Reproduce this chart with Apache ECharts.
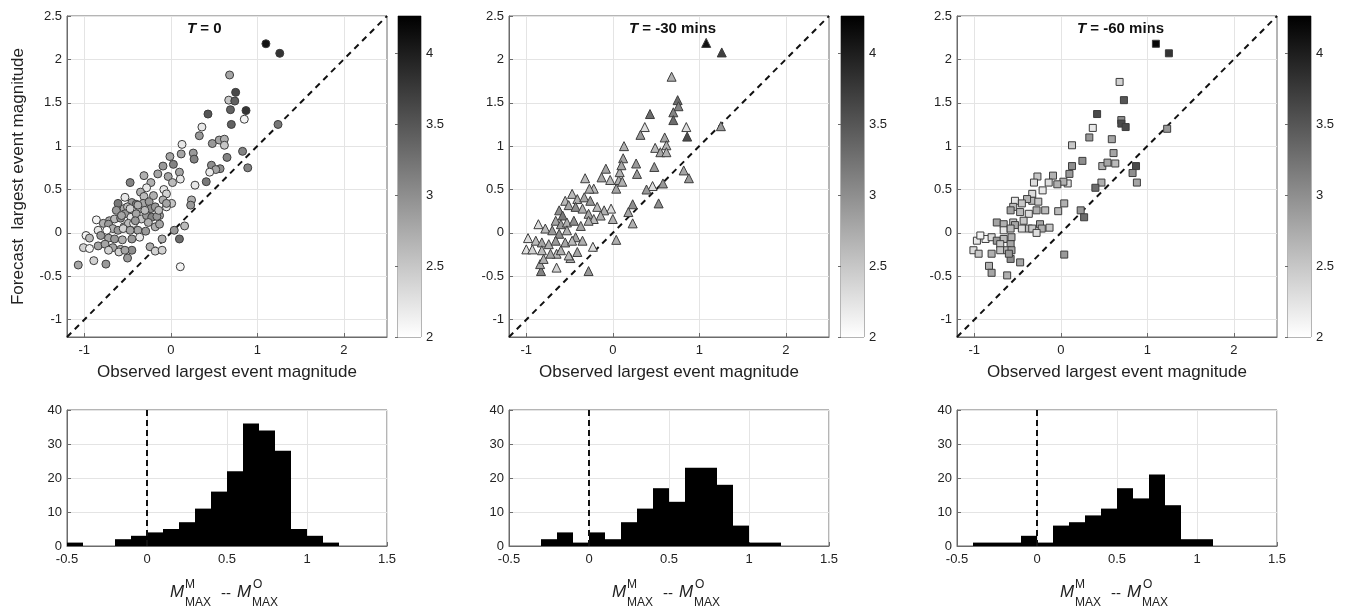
<!DOCTYPE html>
<html>
<head>
<meta charset="utf-8">
<script src="https://cdn.jsdelivr.net/npm/echarts@6/dist/echarts.min.js"></script>
<style>
  html, body { margin: 0; padding: 0; background: #fff; }
  #chart { width: 1349px; height: 608px; }
</style>
</head>
<body>
<div id="chart"></div>
<script>
// Observed vs forecast largest event magnitude: [observed, forecast, colour value]
const obsFcstT0 = [
  [1.10,2.18,4.1],[1.26,2.07,3.8],[0.68,1.82,2.8],[0.75,1.62,3.6],[0.67,1.53,2.5],[0.74,1.52,3.4],
  [0.69,1.42,3.4],[0.87,1.41,3.8],[0.85,1.31,2.1],[0.43,1.37,3.5],[0.70,1.25,3.4],[1.24,1.25,3.2],
  [0.36,1.22,2.2],[0.33,1.12,2.9],[0.48,1.03,2.9],[0.56,1.07,2.8],[0.62,1.08,2.7],[0.62,1.01,2.5],
  [0.13,1.02,2.2],[0.12,0.91,2.8],[0.26,0.92,2.9],[0.27,0.85,3.1],[0.83,0.94,3.1],[0.65,0.87,3.1],
  [-0.01,0.88,2.8],[0.03,0.79,3.1],[-0.09,0.77,2.9],[0.47,0.78,3.0],[0.89,0.75,3.1],[0.57,0.74,3.0],
  [0.52,0.73,2.8],[0.45,0.70,2.2],[0.10,0.70,2.8],[-0.15,0.68,2.8],[-0.03,0.65,2.8],[-0.31,0.66,2.7],
  [0.11,0.62,2.2],[0.02,0.58,2.6],[-0.47,0.58,3.1],[0.41,0.59,3.2],[0.28,0.55,2.2],[-0.23,0.58,2.7],
  [-0.28,0.52,2.2],[-0.08,0.50,2.2],[-0.35,0.47,2.7],[0.24,0.38,2.7],[-0.53,0.41,2.2],[-0.31,0.42,2.6],
  [0.23,0.32,2.9],[0.01,0.34,2.5],[-0.05,0.30,2.2],[-0.61,0.34,3.2],[-0.45,0.35,2.9],
  [-0.54,0.28,2.8],[-0.63,0.26,2.9],[-0.50,0.30,2.6],[-0.40,0.33,3.1],[-0.36,0.28,2.7],[-0.32,0.34,2.8],
  [-0.25,0.36,2.9],[-0.23,0.28,3.0],[-0.18,0.30,2.9],[-0.13,0.20,2.8],
  [-0.71,0.14,2.8],[-0.65,0.16,2.6],[-0.58,0.17,3.0],[-0.53,0.22,2.9],[-0.46,0.18,2.2],[-0.40,0.22,2.8],
  [-0.34,0.16,2.5],[-0.28,0.20,2.9],[-0.22,0.18,3.1],[-0.16,0.19,2.9],
  [-0.86,0.15,2.1],[-0.78,0.11,2.7],[-0.72,0.10,2.9],[-0.67,0.05,2.7],[-0.61,0.03,2.9],[-0.54,0.07,2.7],
  [-0.49,0.11,2.6],[-0.43,0.11,2.2],[-0.38,0.03,2.8],[-0.29,0.02,2.9],[-0.18,0.07,2.7],[-0.13,0.10,2.8],
  [-0.84,0.03,2.2],[-0.74,0.03,2.0],[-0.81,-0.03,2.9],[-0.72,-0.06,2.8],[-0.65,-0.07,2.9],[-0.56,-0.08,2.7],
  [-0.45,-0.07,2.9],[-0.36,-0.05,2.2],
  [-0.98,-0.03,2.1],[-1.01,-0.17,2.4],[-0.94,-0.18,2.1],[-0.84,-0.15,2.8],[-0.76,-0.13,2.8],[-0.67,-0.17,2.8],
  [-0.58,-0.19,2.7],[-0.45,-0.20,3.0],[-0.24,-0.16,2.7],[-0.18,-0.21,2.4],[-0.10,-0.07,2.7],
  [-1.07,-0.37,2.8],[-0.89,-0.32,2.4],[-0.75,-0.36,2.9],[-0.60,-0.22,2.4],[-0.50,-0.29,2.9],[0.11,-0.39,2.1],
  [0.04,0.03,2.9],[0.10,-0.07,3.3],[0.16,0.08,2.6],[-0.05,0.45,2.4],[-0.09,0.38,2.7],
  [-0.55,0.05,2.4],[-0.47,0.03,2.8],[-0.30,0.26,2.6],[-0.41,0.14,2.9],[-0.26,0.12,2.7],[-0.57,0.20,2.8],
  [-0.47,0.28,2.4],[-0.38,0.32,2.7],[-0.14,0.26,2.6],[-0.05,0.34,2.8],[-0.20,0.43,2.7],[-0.10,-0.20,2.4],
  [-0.53,-0.20,2.8],[-0.72,-0.20,2.4],[-0.94,-0.06,2.6]
];

const obsFcstT30 = [
  [1.08,2.19,4.1],[1.26,2.08,3.7],[0.68,1.80,2.7],[0.75,1.53,3.3],[0.76,1.46,3.1],[0.70,1.39,3.1],
  [0.70,1.30,3.3],[0.43,1.37,3.3],[0.85,1.22,2.3],[0.86,1.11,3.6],[1.25,1.23,2.9],[0.37,1.22,2.3],
  [0.32,1.13,2.9],[0.60,1.10,2.8],[0.49,0.98,2.6],[0.55,0.93,2.8],[0.62,1.01,2.7],[0.62,0.93,2.7],
  [0.13,1.00,2.7],[0.12,0.86,2.8],[0.27,0.80,2.9],[0.28,0.68,2.9],[0.48,0.76,2.9],[0.82,0.72,2.8],
  [0.88,0.63,2.9],[-0.08,0.74,2.8],[-0.13,0.64,2.8],[-0.03,0.61,2.6],[0.07,0.61,2.7],[0.08,0.70,2.7],
  [0.10,0.78,2.8],[0.04,0.51,2.8],[-0.32,0.63,2.6],[-0.22,0.51,2.6],[0.46,0.54,2.3],[0.39,0.50,2.9],
  [0.58,0.57,2.9],[0.53,0.34,3.0],[0.23,0.33,3.0],[0.23,0.11,2.7],[0.04,-0.08,2.7],[-0.02,0.28,2.3],
  [0.00,0.16,2.7],[-0.23,-0.16,2.3],[-0.28,-0.44,2.9],[-0.83,-0.44,3.1],[-0.65,-0.40,2.4],[-0.84,-0.36,2.8],
  [-0.49,-0.29,2.7],[-0.65,-0.24,2.6],[-1.00,-0.19,2.3],[-0.93,-0.19,2.4],[-0.98,-0.06,2.3],[-0.86,0.10,2.3],
  [0.11,0.59,2.7],[-0.27,0.51,2.7],[0.18,0.24,2.8],
  [-0.47,0.45,2.6],[-0.41,0.39,2.7],[-0.33,0.41,2.8],[-0.26,0.37,2.9],[-0.18,0.30,2.6],[-0.10,0.26,2.7],
  [-0.55,0.37,2.6],[-0.51,0.32,2.8],[-0.43,0.30,3.0],[-0.35,0.28,2.7],[-0.28,0.22,2.8],[-0.22,0.16,2.6],
  [-0.14,0.20,2.7],
  [-0.62,0.26,3.0],[-0.58,0.20,3.2],[-0.66,0.14,2.8],[-0.60,0.10,2.9],[-0.53,0.12,2.7],[-0.45,0.14,3.0],
  [-0.37,0.08,2.8],[-0.28,0.14,2.7],
  [-0.78,0.05,2.6],[-0.70,0.03,2.9],[-0.62,-0.01,3.0],[-0.53,0.03,2.7],[-0.43,-0.05,2.8],[-0.35,-0.09,2.7],
  [-0.89,-0.09,2.6],[-0.82,-0.11,2.8],[-0.74,-0.13,2.7],[-0.66,-0.09,2.9],[-0.55,-0.11,2.8],[-0.47,-0.09,2.6],
  [-0.82,-0.20,2.6],[-0.72,-0.24,2.8],[-0.60,-0.20,2.7],[-0.51,-0.26,2.6],[-0.41,-0.22,2.8],[-0.80,-0.30,2.7]
];

const obsFcstT60 = [
  [1.10,2.18,4.2],[1.25,2.07,3.8],[0.68,1.74,2.4],[0.73,1.53,3.5],[0.42,1.37,3.6],[0.70,1.30,3.0],
  [0.70,1.26,3.6],[0.75,1.22,3.6],[0.37,1.21,2.2],[0.33,1.10,2.9],[1.23,1.20,2.9],[0.59,1.08,2.8],
  [0.61,0.92,2.8],[0.13,1.01,2.5],[0.25,0.83,3.0],[0.13,0.77,3.0],[0.48,0.77,2.7],[0.54,0.81,2.8],
  [0.63,0.80,2.6],[0.87,0.77,3.6],[0.83,0.69,3.0],[0.88,0.58,2.8],[0.10,0.68,2.9],[0.08,0.57,2.3],
  [0.03,0.59,2.7],[-0.04,0.56,2.7],[-0.09,0.66,2.7],[-0.14,0.58,2.3],[-0.27,0.65,2.5],[-0.31,0.58,2.3],
  [-0.21,0.49,2.2],[0.47,0.58,2.7],[0.40,0.52,3.3],
  [0.04,0.34,2.7],[-0.03,0.25,2.6],[0.23,0.26,2.9],[0.27,0.18,3.3],[0.04,-0.25,2.9],[-0.13,0.06,2.5],
  [-0.33,0.45,2.3],[-0.33,0.37,2.6],[-0.26,0.36,2.5],[-0.39,0.39,2.7],
  [-0.53,0.37,2.2],[-0.45,0.34,2.5],[-0.55,0.30,2.6],[-0.58,0.26,2.8],[-0.47,0.24,2.6],[-0.37,0.22,2.3],
  [-0.28,0.26,2.7],[-0.18,0.26,2.6],
  [-0.74,0.12,2.8],[-0.66,0.10,2.7],[-0.55,0.12,2.5],[-0.53,0.09,2.8],[-0.43,0.14,2.5],[-0.37,0.05,2.6],
  [-0.24,0.10,2.8],[-0.22,0.05,2.7],
  [-0.66,0.03,2.2],[-0.58,0.05,2.6],[-0.45,0.05,2.3],[-0.33,0.05,2.5],[-0.28,0.00,2.3],
  [-0.97,-0.09,2.2],[-0.87,-0.07,2.1],[-0.80,-0.05,2.3],[-0.74,-0.09,2.9],[-0.66,-0.07,2.6],[-0.57,-0.05,2.7],
  [-0.58,-0.13,2.8],[-0.70,-0.13,2.5],
  [-1.01,-0.20,2.3],[-0.95,-0.24,2.5],[-0.80,-0.24,2.7],[-0.70,-0.20,2.5],[-0.62,-0.20,2.6],[-0.57,-0.20,2.8],
  [-0.58,-0.30,3.0],[-0.47,-0.34,2.8],[-0.83,-0.38,2.7],[-0.80,-0.46,2.8],[-0.62,-0.49,2.7],[-0.60,-0.24,2.9],
  [-0.93,-0.03,2.1]
];

// Histogram of forecast minus observed, 0.1-wide bins (left edges)
const binLefts = [-0.5,-0.4,-0.3,-0.2,-0.1,0,0.1,0.2,0.3,0.4,0.5,0.6,0.7,0.8,0.9,1.0,1.1];
const binWidth = 0.1;
const countsT0  = [1,0,0,2,3,4,5,7,11,16,22,36,34,28,5,3,1];
const countsT30 = [0,0,2,4,1,4,2,7,11,17,13,23,23,18,6,1,1];
const countsT60 = [0,1,1,1,3,1,6,7,9,11,17,14,21,12,2,2,0];

// Axis ranges and ticks
const magRange = [-1.2, 2.5];
const magTicksX = [-1, 0, 1, 2];
const magTicksY = [-1, -0.5, 0, 0.5, 1, 1.5, 2, 2.5];
const colourRange = [2, 4.26];
const colourTicks = [2, 2.5, 3, 3.5, 4];
const diffRange = [-0.5, 1.5];
const countRange = [0, 40];
const zeroLine = [0];

const panelLabels = ['0', '-30 mins', '-60 mins'];

// ---- layout and styling ----
const FONT = '"Liberation Sans", Arial, Helvetica, sans-serif';
const TXT = '#222';
const BOX = '#6b6b6b';
const GRIDLINE = '#e4e4e4';
const panelLeft = [67, 509, 957];
const cbarLeft = [398, 841, 1288];
const markerShape = ['circle', 'triangle', 'rect'];
const markerSize = [8, 9, 7];
const scatterSets = [obsFcstT0, obsFcstT30, obsFcstT60];
const countSets = [countsT0, countsT30, countsT60];

const chart = echarts.init(document.getElementById('chart'));

const grids = [], xAxes = [], yAxes = [], series = [], graphics = [];

const tickStyle = { inside: true, length: 4, lineStyle: { color: BOX } };
const labelStyle = { color: TXT, fontSize: 13, fontFamily: FONT };

// scatter panels
for (let i = 0; i < 3; i++) {
  grids.push({ left: panelLeft[i], top: 16, width: 320, height: 321, show: true, borderColor: BOX, borderWidth: 1 });
  xAxes.push({
    gridIndex: i, type: 'value', min: magRange[0], max: magRange[1],
    axisLine: { show: true, onZero: false, lineStyle: { color: BOX } },
    axisTick: Object.assign({ customValues: magTicksX }, tickStyle),
    axisLabel: Object.assign({ customValues: magTicksX, margin: 7 }, labelStyle),
    splitLine: { show: true, lineStyle: { color: GRIDLINE } },
    name: 'Observed largest event magnitude', nameLocation: 'middle', nameGap: 27,
    nameTextStyle: { fontSize: 17, color: TXT, fontFamily: FONT }
  });
  yAxes.push({
    gridIndex: i, type: 'value', min: magRange[0], max: magRange[1],
    axisLine: { show: true, onZero: false, lineStyle: { color: BOX } },
    axisTick: Object.assign({ customValues: magTicksY }, tickStyle),
    axisLabel: Object.assign({ customValues: magTicksY, margin: 5 }, labelStyle),
    splitLine: { show: true, lineStyle: { color: GRIDLINE } },
    name: i === 0 ? 'Forecast  largest event magnitude' : '', nameLocation: 'middle', nameGap: 40,
    nameTextStyle: { fontSize: 17, color: TXT, fontFamily: FONT }
  });
}
// colour bars
for (let i = 0; i < 3; i++) {
  grids.push({ left: cbarLeft[i], top: 16, width: 23, height: 321, show: true, borderColor: BOX, borderWidth: 1 });
  xAxes.push({ gridIndex: 3 + i, type: 'value', min: 0, max: 1, show: false });
  yAxes.push({
    gridIndex: 3 + i, type: 'value', min: colourRange[0], max: colourRange[1], position: 'right',
    axisLine: { show: false },
    axisTick: { show: true, inside: true, length: 3, customValues: colourTicks, lineStyle: { color: BOX } },
    axisLabel: Object.assign({ customValues: colourTicks, margin: 5 }, labelStyle),
    splitLine: { show: false }
  });
}
// histograms
for (let i = 0; i < 3; i++) {
  grids.push({ left: panelLeft[i], top: 410, width: 320, height: 136, show: true, borderColor: BOX, borderWidth: 1 });
  xAxes.push({
    gridIndex: 6 + i, type: 'value', min: diffRange[0], max: diffRange[1], interval: 0.5,
    axisLine: { show: true, onZero: false, lineStyle: { color: BOX } },
    axisTick: tickStyle,
    axisLabel: Object.assign({ margin: 7 }, labelStyle),
    splitLine: { show: true, lineStyle: { color: GRIDLINE } }
  });
  yAxes.push({
    gridIndex: 6 + i, type: 'value', min: countRange[0], max: countRange[1], interval: 10,
    axisLine: { show: true, onZero: false, lineStyle: { color: BOX } },
    axisTick: tickStyle,
    axisLabel: Object.assign({ margin: 5 }, labelStyle),
    splitLine: { show: true, lineStyle: { color: GRIDLINE } }
  });
}

// scatter series (indices 0..2, coloured by the visualMap)
for (let i = 0; i < 3; i++) {
  series.push({
    type: 'scatter', xAxisIndex: i, yAxisIndex: i, data: scatterSets[i],
    symbol: markerShape[i], symbolSize: markerSize[i], z: 3,
    itemStyle: { borderColor: '#3c3c3c', borderWidth: 1, opacity: 1 },
    emphasis: { disabled: true }
  });
}
// 1:1 lines
for (let i = 0; i < 3; i++) {
  series.push({
    type: 'line', xAxisIndex: i, yAxisIndex: i, silent: true, z: 2,
    data: [[magRange[0], magRange[0]], [magRange[1], magRange[1]]],
    symbol: 'none', lineStyle: { color: '#111', width: 2, type: [6, 5] }
  });
}
// colour bar gradients
for (let i = 0; i < 3; i++) {
  series.push({
    type: 'custom', xAxisIndex: 3 + i, yAxisIndex: 3 + i, silent: true,
    data: [[0, colourRange[0], 1, colourRange[1]]],
    renderItem: function (params, api) {
      const a = api.coord([api.value(0), api.value(3)]);
      const b = api.coord([api.value(2), api.value(1)]);
      return {
        type: 'rect',
        shape: { x: a[0], y: a[1], width: b[0] - a[0], height: b[1] - a[1] },
        style: { fill: new echarts.graphic.LinearGradient(0, 0, 0, 1, [
          { offset: 0, color: '#000000' }, { offset: 1, color: '#ffffff' }]) }
      };
    }
  });
}
// histogram bars and zero lines
for (let i = 0; i < 3; i++) {
  series.push({
    type: 'custom', xAxisIndex: 6 + i, yAxisIndex: 6 + i, silent: true, z: 2,
    data: binLefts.map((x, k) => [x, countSets[i][k]]),
    encode: { x: 0, y: 1 },
    renderItem: function (params, api) {
      const x0 = api.value(0), c = api.value(1);
      const p0 = api.coord([x0, c]);
      const p1 = api.coord([x0 + binWidth, 0]);
      return {
        type: 'rect',
        shape: { x: p0[0], y: p0[1], width: p1[0] - p0[0], height: p1[1] - p0[1] },
        style: { fill: '#000' }
      };
    }
  });
  series.push({
    type: 'line', xAxisIndex: 6 + i, yAxisIndex: 6 + i, silent: true, z: 4,
    data: [[zeroLine[0], countRange[0]], [zeroLine[0], countRange[1]]],
    symbol: 'none', lineStyle: { color: '#111', width: 2, type: [6, 4] }
  });
}

// panel titles and histogram axis labels
for (let i = 0; i < 3; i++) {
  graphics.push({
    type: 'text', left: panelLeft[i] + 120, top: 21, silent: true,
    style: {
      text: '{i|T}{b| = ' + panelLabels[i] + '}',
      rich: {
        i: { fontStyle: 'italic', fontWeight: 'bold', fontSize: 15, fontFamily: FONT, fill: '#111' },
        b: { fontWeight: 'bold', fontSize: 15, fontFamily: FONT, fill: '#111' }
      }
    }
  });
  const cx = panelLeft[i] + 160;
  const parts = [
    { t: 'M', dx: -57, y: 592, fs: 17, it: true },
    { t: 'M', dx: -42, y: 585, fs: 12, it: false },
    { t: 'MAX', dx: -42, y: 603, fs: 12, it: false },
    { t: '--', dx: -6, y: 594, fs: 15, it: false },
    { t: 'M', dx: 10, y: 592, fs: 17, it: true },
    { t: 'O', dx: 26, y: 585, fs: 12, it: false },
    { t: 'MAX', dx: 25, y: 603, fs: 12, it: false }
  ];
  parts.forEach(p => graphics.push({
    type: 'text', x: cx + p.dx, y: p.y, silent: true,
    style: {
      text: p.t, fontSize: p.fs, fontFamily: FONT, fontStyle: p.it ? 'italic' : 'normal',
      fill: TXT, align: 'left', verticalAlign: 'middle'
    }
  }));
}

chart.setOption({
  backgroundColor: '#ffffff',
  animation: false,
  textStyle: { fontFamily: FONT },
  grid: grids,
  xAxis: xAxes,
  yAxis: yAxes,
  visualMap: [{
    type: 'continuous', show: false, seriesIndex: [0, 1, 2], dimension: 2,
    min: colourRange[0], max: colourRange[1],
    inRange: { color: ['#ffffff', '#000000'] }
  }],
  series: series,
  graphic: graphics
});
</script>
</body>
</html>
